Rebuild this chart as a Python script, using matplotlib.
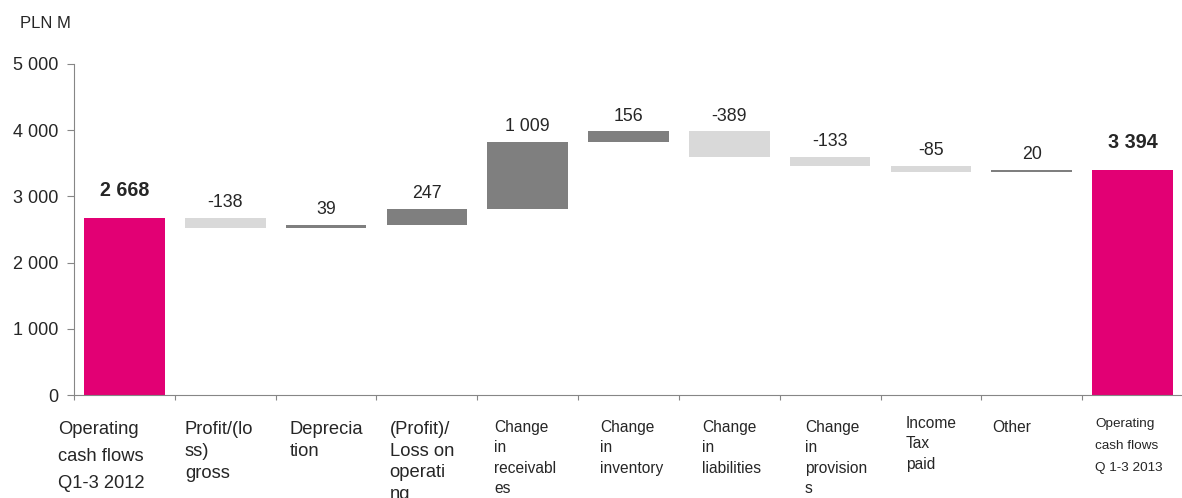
import matplotlib.pyplot as plt
import numpy as np

# categories (line breaks as in the original slide)
categories = [
    "Operating\ncash flows\nQ1-3 2012",
    "Profit/(lo\nss)\ngross",
    "Deprecia\ntion",
    "(Profit)/\nLoss on\noperati\nng",
    "Change\nin\nreceivabl\nes",
    "Change\nin\ninventory",
    "Change\nin\nliabilities",
    "Change\nin\nprovision\ns",
    "Income\nTax\npaid",
    "Other",
    "Operating\ncash flows\nQ 1-3 2013",
]

# values in PLN M, first and last are totals, the rest are changes
values = [2668, -138, 39, 247, 1009, 156, -389, -133, -85, 20, 3394]
is_total = [True, False, False, False, False, False, False, False, False, False, True]

# label layout: x shift from category centre, font size, line spacing, top in px
label_dx = [-0.66, -0.40, -0.36, -0.37, -0.33, -0.28, -0.27, -0.25, -0.25, -0.39, -0.37]
label_fs = [13.2, 13.2, 13.2, 13.2, 11.2, 11.2, 11.2, 11.2, 11.2, 11.2, 9.7]
label_ls = [1.75, 1.4, 1.35, 1.35, 1.45, 1.45, 1.45, 1.45, 1.45, 1.45, 2.1]
label_top = [421, 421, 421, 421, 420, 420, 420, 420, 416, 420, 418]


def fmt(v):
    return f"{v:,}".replace(",", " ")


if __name__ == "__main__":
    plt.rcParams["font.family"] = ["Liberation Sans", "DejaVu Sans"]

    magenta = "#E20074"
    up_color = "#7F7F7F"
    down_color = "#D9D9D9"
    spine_color = "#868686"
    text_color = "#262626"

    # compute bar bottoms and heights for the waterfall
    bottoms, heights, colors, tops = [], [], [], []
    running = 0
    for v, total in zip(values, is_total):
        if total:
            bottoms.append(0)
            heights.append(v)
            colors.append(magenta)
            running = v
            tops.append(v)
        else:
            new = running + v
            bottoms.append(min(running, new))
            heights.append(abs(v))
            colors.append(up_color if v > 0 else down_color)
            tops.append(max(running, new))
            running = new

    fig = plt.figure(figsize=(11.82, 4.98), dpi=100)
    ax = fig.add_axes([74 / 1182, 103 / 498, 1109 / 1182, 331 / 498])

    x = np.arange(len(values))
    ax.bar(x, heights, bottom=bottoms, width=0.8, color=colors, linewidth=0)

    # value labels
    for i, (v, total) in enumerate(zip(values, is_total)):
        if total:
            ax.annotate(fmt(v), (i, tops[i]), xytext=(0, 13), textcoords="offset points",
                        ha="center", va="bottom", fontsize=14.2, fontweight="bold", color=text_color)
        else:
            ax.annotate(fmt(v), (i, tops[i]), xytext=(0, 5), textcoords="offset points",
                        ha="center", va="bottom", fontsize=12.8, color=text_color)

    # category labels below the axis
    trans = ax.get_xaxis_transform()
    for i, lab in enumerate(categories):
        ax.text(i + label_dx[i], -(label_top[i] - 395) / 331, lab, transform=trans,
                ha="left", va="top", fontsize=label_fs[i], linespacing=label_ls[i],
                color=text_color)

    # setup axis
    ax.set_xlim(-0.5, len(values) - 0.5)
    ax.set_ylim(0, 5000)
    ax.set_yticks(range(0, 5001, 1000))
    ax.set_yticklabels([fmt(t) for t in range(0, 5001, 1000)])
    ax.set_xticks(np.arange(-0.5, len(values), 1.0))
    ax.set_xticklabels([])
    ax.tick_params(axis="y", length=5, pad=6, color=spine_color, labelsize=13, labelcolor=text_color)
    ax.tick_params(axis="x", length=3.5, color=spine_color)
    for side in ["top", "right"]:
        ax.spines[side].set_visible(False)
    for side in ["left", "bottom"]:
        ax.spines[side].set_color(spine_color)

    fig.text(20 / 1182, 1 - 23 / 498, "PLN M", ha="left", va="center", fontsize=12, color=text_color)

    plt.savefig("out.png", dpi=100)
